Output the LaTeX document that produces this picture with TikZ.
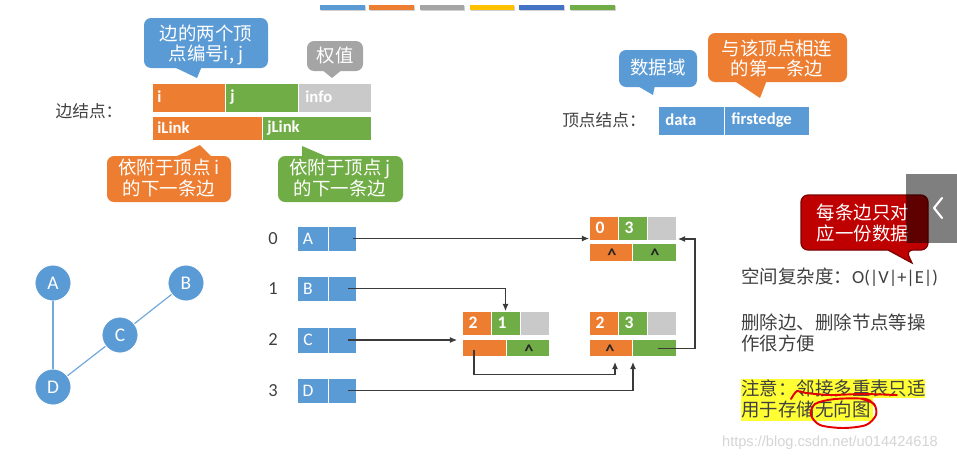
\documentclass[tikz,border=0pt]{standalone}
\usepackage{fontspec}
\setmainfont{Carlito}
\newfontfamily\cjk{Noto Sans CJK SC}
\newfontfamily\wmfont{Liberation Sans}
\usetikzlibrary{arrows.meta,calc}
\newcommand\myfs[1]{\fontsize{#1}{11.4}\selectfont}
\definecolor{cblue}{HTML}{5B9BD5}
\definecolor{corange}{HTML}{ED7D31}
\definecolor{cgreen}{HTML}{70AD47}
\definecolor{cgray}{HTML}{A5A5A5}
\definecolor{clight}{HTML}{C9C9C9}
\definecolor{cyellow}{HTML}{FFC000}
\definecolor{cdblue}{HTML}{4472C4}
\definecolor{ctext}{HTML}{404040}
\definecolor{cred}{HTML}{BF0000}
\definecolor{credline}{HTML}{7F0000}
\definecolor{clink}{HTML}{3A3A3A}
\definecolor{chigh}{HTML}{FFFF33}
% a filled cell given by its corners (in px-like units)
\newcommand\cellnode[6]{\node[cellbox, fill=#2, minimum width={(#5-#3)*0.02cm}, minimum height={(#6-#4)*0.02cm}] (#1) at ({(#3+#5)/2},{(#4+#6)/2}) {};}
\begin{document}
\begin{tikzpicture}[x=0.02cm,y=-0.02cm,
  cellbox/.style={draw=white, line width=0.5pt, inner sep=0, outer sep=0},
  bubtext/.style={text=white, font=\cjk\myfs{10.5}, align=center, inner sep=0},
  lbl/.style={text=ctext, font=\cjk\myfs{9.5}, inner sep=0},
  celltxt/.style={text=white, font=\bfseries\myfs{9.5}, inner sep=0, anchor=west},
  vtxt/.style={text=white, font=\myfs{10}, inner sep=0},
  idx/.style={text=ctext, font=\myfs{10.5}, inner sep=0},
  num/.style={text=white, font=\bfseries\myfs{10}, inner sep=0},
  caret/.style={text=black!85, font=\bfseries\myfs{10.5}, inner sep=0, anchor=north},
  gnode/.style={circle, fill=cblue, draw=white, line width=0.5pt, minimum size=0.72cm, inner sep=0, text=white, font=\myfs{11}},
  gedge/.style={draw=cblue!85, line width=0.7pt},
  ptr/.style={draw=clink, line width=0.6pt, -{Latex[length=4pt,width=3.4pt]}},
  rtext/.style={text=ctext, font=\cjk\myfs{10.5}, inner sep=0, anchor=west},
  wm/.style={text=black!17, font=\wmfont\myfs{8.3}, inner sep=0},
  redmark/.style={draw=red!90!black, line width=1.1pt, line cap=round, line join=round}]
\useasboundingbox (0,0) rectangle (957,461);

% theme colour bars along the top
\foreach \xa/\xb/\c in {320/365/cblue, 369/414/corange, 420/464/cgray, 470/514/cyellow, 519/564/cdblue, 570/615/cgreen}{
  \fill[black!18] (\xa+0.6,5.8) rectangle (\xb+0.6,10.8);
  \fill[\c] (\xa,5) rectangle (\xb,10);
}

% ---------- edge node layout ----------
\node[lbl] (elabel) at (89,111) {边结点：};
\cellnode{fi}{corange}{152}{83}{225}{112}
\cellnode{fj}{cgreen}{225}{83}{298}{112}
\cellnode{finfo}{clight}{298}{83}{371}{112}
\cellnode{fil}{corange}{152}{116}{262}{140}
\cellnode{fjl}{cgreen}{262}{116}{371}{140}
\node[celltxt] (ti) at (157,97) {i};
\node[celltxt] (tj) at (230,97) {j};
\node[celltxt] (tinfo) at (305,97) {info};
\node[celltxt] (til) at (157,128) {iLink};
\node[celltxt] (tjl) at (267,128) {jLink};

% callouts around the edge node
\fill[cblue, rounded corners=4pt] (144,18) rectangle (268,68);
\fill[cblue] (172,66) -- (197,78) -- (202,66) -- cycle;
\node[bubtext] (b1) at (206,45) {边的两个顶\\点编号i, j};

\fill[cgray, rounded corners=4pt] (307,41) rectangle (363,71);
\fill[cgray] (321,69) -- (332,78) -- (343,69) -- cycle;
\node[bubtext] (b2) at (335,56) {权值};

\fill[corange, rounded corners=4pt] (107,156) rectangle (231,202);
\fill[corange] (173,158) -- (200,145) -- (213,158) -- cycle;
\node[bubtext] (b3) at (169,178) {依附于顶点 i\\的下一条边};

\fill[cgreen, rounded corners=4pt] (278,156) rectangle (403,202);
\fill[cgreen] (302,158) -- (302,146) -- (330,158) -- cycle;
\node[bubtext] (b4) at (340,178) {依附于顶点 j\\的下一条边};

% ---------- vertex node layout ----------
\node[lbl] (vlabel) at (604,120) {顶点结点：};
\cellnode{fdata}{cblue}{658}{106}{724}{135}
\cellnode{ffirst}{cblue}{724}{106}{809}{135}
\node[celltxt] (tdata) at (665,120) {data};
\node[celltxt] (tfirst) at (731,120) {firstedge};

\fill[cblue, rounded corners=4pt] (619,50) rectangle (697,87);
\fill[cblue] (636,85) -- (653,95) -- (655,85) -- cycle;
\node[bubtext] (b5) at (658,68) {数据域};

\fill[corange, rounded corners=4pt] (708,33) rectangle (847,82);
\fill[corange] (733,80) -- (760,98) -- (767,80) -- cycle;
\node[bubtext] (b6) at (777,58) {与该顶点相连\\的第一条边};

% ---------- the undirected graph ----------
\node[gnode] (gA) at (53,283) {A};
\node[gnode] (gB) at (186,283) {B};
\node[gnode] (gC) at (120,335) {C};
\node[gnode] (gD) at (53,387) {D};
\draw[gedge] (gA) -- (gD);
\draw[gedge] (gC) -- (gB);
\draw[gedge] (gC) -- (gD);

% ---------- vertex table ----------
\foreach \n/\l/\ya/\yb in {0/A/226/251, 1/B/276/301, 2/C/327/353, 3/D/378/403}{
  \node[idx] (i\l) at (273,{(\ya+\yb)/2}) {\n};
  \cellnode{v\l}{cblue}{297}{\ya}{328}{\yb}
  \cellnode{p\l}{cblue}{328}{\ya}{356}{\yb}
  \node[vtxt] (t\l) at (308,{(\ya+\yb)/2}) {\l};
}

% ---------- edge nodes ----------
% edge (0,3)
\cellnode{e03i}{corange}{589}{216}{618}{240}
\cellnode{e03j}{cgreen}{618}{216}{647}{240}
\cellnode{e03w}{clight}{647}{216}{676}{240}
\cellnode{e03il}{corange}{589}{243}{632}{261}
\cellnode{e03jl}{cgreen}{632}{243}{676}{261}
\node[num] (n03a) at (600,228) {0};
\node[num] (n03b) at (629,228) {3};
\node[caret] (c03a) at (612,249) {\textasciicircum};
\node[caret] (c03b) at (655,249) {\textasciicircum};
% edge (2,1)
\cellnode{e21i}{corange}{462}{311}{491}{335}
\cellnode{e21j}{cgreen}{491}{311}{520}{335}
\cellnode{e21w}{clight}{520}{311}{549}{335}
\cellnode{e21il}{corange}{462}{339}{506}{356}
\cellnode{e21jl}{cgreen}{506}{339}{549}{356}
\node[num] (n21a) at (473,323) {2};
\node[num] (n21b) at (502,323) {1};
\node[caret] (c21b) at (529,345) {\textasciicircum};
% edge (2,3)
\cellnode{e23i}{corange}{589}{311}{618}{335}
\cellnode{e23j}{cgreen}{618}{311}{647}{335}
\cellnode{e23w}{clight}{647}{311}{676}{335}
\cellnode{e23il}{corange}{589}{339}{632}{356}
\cellnode{e23jl}{cgreen}{632}{339}{676}{356}
\node[num] (n23a) at (600,323) {2};
\node[num] (n23b) at (629,323) {3};
\node[caret] (c23a) at (610,345) {\textasciicircum};

% ---------- pointers ----------
\draw[ptr] ($(pA.center)+(11,0)$) -- (pA.center -| e03i.west);
\draw[ptr] ($(pB.center)+(6,0)$) -| (e21j.north);
\draw[ptr] ($(pC.center)+(6,0)$) -- ($(pC.center -| e21il.west)+(-5,0)$);
\draw[ptr] ($(e21il.west)+(12,2)$) -- ($(e21il.west)+(12,27)$) -| ($(e23il.south)+(4.5,6)$);
\draw[ptr] ($(pD.center)+(6,0)$) -| ($(e23il.south east)+(1,6)$);
\draw[ptr] ($(e23jl.center)+(4,1)$) -- ++(37,0) |- ($(e03w.south east)+(2,-1)$);

% ---------- notes on the right ----------
\node[rtext] (note1) at (741,277) {空间复杂度：{\rmfamily O(|V|+|E|)}};
\node[rtext] (note2) at (741,322) {删除边、删除节点等操};
\node[rtext] (note3) at (741,343) {作很方便};
\fill[chigh] (741,379) rectangle (925,398);
\fill[chigh] (741,398) rectangle (873,421);
\node[rtext] (note4) at (741,388) {注意：邻接多重表只适};
\node[rtext] (note5) at (741,410) {用于存储无向图};
\draw[redmark] plot[smooth] coordinates {(791,399) (797,391) (806,393) (830,395) (862,394) (897,395)};
\draw[redmark] plot[smooth] coordinates {(862,399) (874,404) (876,415) (866,425) (843,428) (820,425) (811,415) (815,404) (835,399) (866,399) (875,406)};

% red callout
\filldraw[fill=cred, draw=credline, line width=0.7pt]
  (801,222) [rounded corners=4pt] -- (801,195) -- (928,195) -- (928,250) -- (906,250)
  [sharp corners] -- (912,263) -- (888,250) [rounded corners=4pt] -- (801,250) -- cycle;
\node[bubtext] (b7) at (863,223) {每条边只对\\应一份数据};

% side panel with chevron
\fill[black, opacity=0.5] (906,174) rectangle (957,243);
\draw[white, line width=1.2pt, line cap=round, line join=round] (942,198) -- (934,208) -- (942,218);

\node[wm] (wmark) at (830,443) {https://blog.csdn.net/u014424618};
\end{tikzpicture}
\end{document}
